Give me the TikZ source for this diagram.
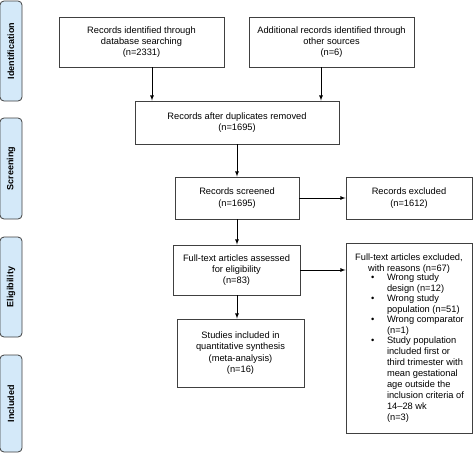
\documentclass[tikz,border=0pt]{standalone}
\usepackage{fontspec}
\setmainfont{Liberation Sans}
\usepackage{array}
\usepackage{tikz}
\usetikzlibrary{shapes,arrows,positioning,calc}
\usepackage{xcolor}
\definecolor{tabblue}{HTML}{D4E9F9}
\definecolor{boxgray}{HTML}{404040}
\newcommand{\boxfont}{\fontsize{9.3}{11.3}\selectfont}
\newcommand{\listfont}{\fontsize{9.3}{11}\selectfont}

\begin{document}
\begin{tikzpicture}[x=1pt, y=-1pt,
    box/.style={draw=boxgray, line width=0.9pt, align=center, inner sep=2pt,
                font=\boxfont},
    stagetab/.style={draw=boxgray, line width=0.8pt, fill=tabblue, rounded corners=4pt,
                     rotate=90, minimum height=22pt, inner sep=0pt,
                     font=\fontsize{9}{11}\selectfont\bfseries},
    arr/.style={->, >=latex, line width=0.8pt}]
    \useasboundingbox (0,0) rectangle (474,456);

    % Stages
    \node[stagetab, minimum width=100pt] (tid) at (11,51) {Identification};
    \node[stagetab, minimum width=101pt] (tscr) at (11,168.5) {Screening};
    \node[stagetab, minimum width=100pt] (telig) at (11,287) {Eligibility};
    \node[stagetab, minimum width=97pt] (tinc) at (11,403.5) {Included};

    % Identification
    \node[box, minimum width=165pt, minimum height=50pt] (db) at (141.5,42)
        {Records identified through\\database searching\\(n=2331)};
    \node[box, minimum width=165pt, minimum height=50pt] (other) at (331.5,42)
        {Additional records identified through\\other sources\\(n=6)};
    \node[box, minimum width=204pt, minimum height=43pt] (dup) at (237,122.5)
        {Records after duplicates removed\\(n=1695)};

    % Screening
    \node[box, minimum width=124pt, minimum height=42pt] (scr) at (237,198)
        {Records screened\\(n=1695)};
    \node[box, minimum width=126pt, minimum height=42pt] (exc) at (409,198)
        {Records excluded\\(n=1612)};

    % Eligibility
    \node[box, minimum width=127pt, minimum height=50pt] (full) at (236.5,270)
        {Full-text articles assessed\\for eligibility\\(n=83)};
    \node[box, font=\listfont, minimum width=126pt, minimum height=190pt] (fexc) at (409,338.5)
        {Full-text articles excluded,\\with reasons (n=67)\\[-1pt]
         \renewcommand{\arraystretch}{0.917}%
         \begin{tabular}{@{\hspace{22pt}}>{\listfont}p{16pt}@{}>{\listfont}p{82pt}@{}}
         \textbullet & Wrong study\newline design (n=12)\\
         \textbullet & Wrong study\newline population (n=51)\\
         \textbullet & Wrong comparator\newline (n=1)\\
         \textbullet & Study population\newline included first or\newline
                       third trimester with\newline mean gestational\newline
                       age outside the\newline inclusion criteria of\newline
                       14–28 wk\newline (n=3)
         \end{tabular}};

    % Included
    \node[box, minimum width=127pt, minimum height=68pt] (incl) at (240.5,353)
        {Studies included in\\quantitative synthesis\\(meta-analysis)\\(n=16)};

    % Arrows
    \coordinate (a1) at ([xshift=10.5pt]db.south);
    \coordinate (a2) at ([xshift=-10.5pt]other.south);
    \draw[arr] (a1) -- (a1 |- dup.north);
    \draw[arr] (a2) -- (a2 |- dup.north);
    \draw[arr] (dup) -- (scr);
    \draw[arr] (scr) -- (exc);
    \draw[arr] (scr.south) -- (scr.south |- full.north);
    \draw[arr] (full.east) -- (full.east -| fexc.west);
    \draw[arr] (scr.south |- full.south) -- (scr.south |- incl.north);
\end{tikzpicture}
\end{document}
